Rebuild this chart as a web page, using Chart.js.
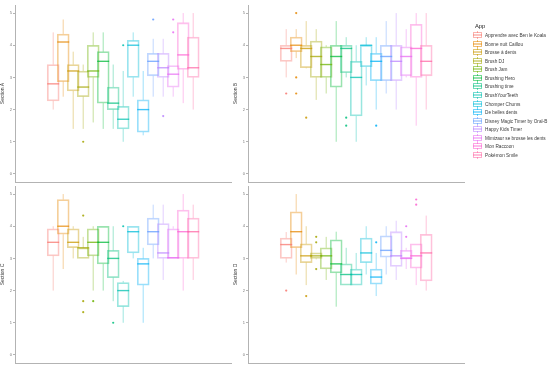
<!DOCTYPE html>
<html>
<head>
<meta charset="utf-8">
<script src="https://cdn.jsdelivr.net/npm/chart.js@4.4.1/dist/chart.umd.min.js"></script>
<style>
  body { margin: 0; background: #fff; font-family: "Liberation Sans", Arial, sans-serif; }
  #wrap { position: relative; width: 550px; height: 371px; overflow: hidden; }
  .panel { position: absolute; }
  #legend { position: absolute; left: 472px; top: 21px; width: 78px; height: 150px; color: #3a3a3a; font-size: 4.7px; white-space: nowrap; }
  #legend .title { position: absolute; left: 3px; top: 0; font-size: 5.8px; line-height: 10px; color: #222; }
  #legend .item { position: absolute; left: 0; height: 8px; display: flex; align-items: center; }
  #legend canvas { width: 9px; height: 8px; margin: 0 3px 0 1px; }
</style>
</head>
<body>
<div id="wrap">
  <div class="panel" style="left:0;top:0;width:236px;height:190px"><canvas id="cA"></canvas></div>
  <div class="panel" style="left:233px;top:0;width:236px;height:190px"><canvas id="cB"></canvas></div>
  <div class="panel" style="left:0;top:181px;width:236px;height:190px"><canvas id="cC"></canvas></div>
  <div class="panel" style="left:233px;top:181px;width:236px;height:190px"><canvas id="cD"></canvas></div>
  <div id="legend"></div>
</div>
<script>
const apps = [
  'Apprendre avec Ben le Koala', 'Bonne nuit Caillou', 'Brosse à dents', 'Brush DJ',
  'Brush Jam', 'Brushing Hero', 'Brushing time', 'BrushYourTeeth', 'Chomper Chums',
  'De belles dents', 'Disney Magic Timer by Oral-B', 'Happy Kids Timer',
  'Mimizaur se brosse les dents', 'Mon Raccoon', 'Pokémon Smile'
];
const colors = [
  '#F8766D', '#E58700', '#C99800', '#A3A500', '#6BB100', '#00BA38', '#00BF7D', '#00C0AF',
  '#00BCD8', '#00B0F6', '#619CFF', '#B983FF', '#E76BF3', '#FD61D1', '#FF67A4'
];
const yTicks = [0, 1, 2, 3, 4, 5];

// [lower whisker, Q1, median, Q3, upper whisker] per app
const sectionA = [
  [2.0, 2.27, 2.8, 3.4, 4.4], [2.4, 2.87, 4.1, 4.35, 4.8], [1.4, 2.58, 3.2, 3.4, 3.8],
  [1.4, 2.4, 2.7, 3.2, 3.4], [1.6, 3.0, 3.2, 4.0, 4.4], [1.4, 2.2, 3.5, 3.8, 4.4],
  [1.4, 2.0, 2.2, 2.7, 3.4], [1.0, 1.4, 1.7, 2.1, 3.2], [2.4, 3.0, 4.0, 4.15, 4.4],
  [1.2, 1.3, 2.0, 2.3, 3.2], [2.4, 3.05, 3.5, 3.75, 4.2], [2.4, 3.0, 3.3, 3.75, 4.2],
  [2.4, 2.7, 3.1, 3.37, 3.37], [2.2, 3.25, 3.7, 4.7, 5.0], [2.0, 3.0, 3.3, 4.25, 5.0]
];
const outliersA = [[], [], [], [1.0], [], [], [], [4.0], [], [], [4.8], [1.8], [4.4, 4.8], [], []];

const sectionB = [
  [3.0, 3.5, 3.9, 4.0, 4.5], [3.6, 3.8, 4.0, 4.25, 4.5], [3.28, 3.3, 3.9, 4.0, 4.75],
  [2.3, 3.0, 3.65, 4.13, 4.5], [2.5, 3.0, 3.4, 3.95, 4.0], [1.0, 2.7, 3.65, 4.0, 4.75],
  [3.0, 3.15, 3.9, 4.0, 4.25], [1.0, 1.8, 3.0, 3.5, 4.0], [2.75, 3.33, 4.0, 4.0, 4.25],
  [2.0, 2.9, 3.5, 3.75, 4.25], [2.5, 2.9, 3.65, 4.0, 4.75], [2.0, 2.9, 3.5, 4.0, 5.0],
  [3.0, 3.05, 3.65, 3.95, 4.5], [1.5, 3.0, 3.9, 4.65, 5.0], [2.0, 3.05, 3.5, 4.0, 5.0]
];
const outliersB = [[2.5], [5.0, 3.0, 2.5], [1.75], [], [], [], [1.75, 1.5], [], [], [1.5], [], [], [], [], []];

const sectionC = [
  [2.0, 3.08, 3.5, 3.92, 4.0], [2.67, 3.75, 4.0, 4.83, 5.0], [3.0, 3.33, 3.5, 3.92, 4.0],
  [3.0, 3.0, 3.33, 3.33, 3.67], [2.0, 3.08, 3.5, 3.92, 4.0], [2.0, 2.83, 3.5, 4.0, 4.0],
  [1.67, 2.4, 3.0, 3.25, 4.0], [1.0, 1.5, 2.0, 2.25, 2.3], [3.0, 3.17, 3.83, 4.0, 4.0],
  [1.0, 2.17, 2.83, 3.0, 3.33], [3.0, 3.42, 3.83, 4.25, 4.67], [2.33, 3.0, 3.17, 4.08, 4.67],
  [3.0, 3.0, 3.02, 3.92, 4.0], [2.0, 3.0, 3.83, 4.5, 5.0], [2.33, 3.0, 3.83, 4.25, 4.67]
];
const outliersC = [[], [], [], [4.33, 1.67, 1.33], [1.67], [], [1.0], [4.0], [], [], [], [], [], [], []];

const sectionD = [
  [2.87, 3.0, 3.43, 3.63, 3.82], [2.5, 3.33, 3.83, 4.45, 5.0], [2.17, 2.87, 3.08, 3.45, 4.0],
  [2.97, 3.0, 3.08, 3.17, 3.17], [2.33, 2.67, 3.08, 3.33, 3.67], [1.5, 2.55, 2.83, 3.58, 3.83],
  [2.17, 2.17, 2.5, 2.83, 3.33], [2.17, 2.17, 2.5, 2.67, 3.17], [2.5, 2.87, 3.17, 3.63, 4.0],
  [1.83, 2.2, 2.42, 2.67, 3.17], [2.5, 3.04, 3.25, 3.7, 4.0], [2.33, 2.75, 3.08, 3.83, 4.17],
  [2.67, 3.0, 3.0, 3.25, 3.33], [2.17, 2.7, 3.08, 3.45, 3.45], [2.0, 2.3, 3.17, 3.75, 4.33]
];
const outliersD = [[2.0], [], [1.83], [3.67, 3.5, 2.67], [], [], [], [], [], [3.5], [], [], [4.0, 3.67], [4.83, 4.67], []];

function alpha(hex, a) {
  const n = parseInt(hex.slice(1), 16);
  return `rgba(${n >> 16},${(n >> 8) & 255},${n & 255},${a})`;
}

// whiskers and medians, placed with the chart's own scales
const boxLines = {
  id: 'boxLines',
  afterDatasetsDraw(chart, args, opts) {
    const { ctx, scales: { x, y } } = chart;
    const half = 6;
    ctx.save();
    opts.stats.forEach((s, i) => {
      const cx = x.getPixelForValue(i + 1);
      ctx.strokeStyle = alpha(colors[i], 0.38);
      ctx.lineWidth = 1;
      ctx.beginPath();
      ctx.moveTo(cx, y.getPixelForValue(s[0]));
      ctx.lineTo(cx, y.getPixelForValue(s[1]));
      ctx.moveTo(cx, y.getPixelForValue(s[3]));
      ctx.lineTo(cx, y.getPixelForValue(s[4]));
      ctx.stroke();
      ctx.strokeStyle = alpha(colors[i], 0.75);
      ctx.lineWidth = 1.4;
      ctx.beginPath();
      ctx.moveTo(cx - half, y.getPixelForValue(s[2]));
      ctx.lineTo(cx + half, y.getPixelForValue(s[2]));
      ctx.stroke();
    });
    ctx.restore();
  }
};

function makePanel(id, title, stats, outliers) {
  const pts = [], ptColors = [];
  outliers.forEach((list, i) => list.forEach(v => {
    pts.push({ x: i + 1, y: v });
    ptColors.push(alpha(colors[i], 0.85));
  }));
  new Chart(document.getElementById(id), {
    type: 'bar',
    data: {
      datasets: [{
        type: 'bar',
        data: stats.map((s, i) => ({ x: i + 1, y: [s[1], s[3]] })),
        backgroundColor: 'rgba(255,255,255,0)',
        borderColor: colors.map(c => alpha(c, 0.4)),
        borderWidth: 1.1,
        borderSkipped: false,
        barThickness: 12
      }, {
        type: 'scatter',
        data: pts,
        pointBackgroundColor: ptColors,
        pointBorderWidth: 0,
        pointRadius: 1.1
      }]
    },
    options: {
      responsive: true,
      maintainAspectRatio: false,
      animation: false,
      layout: { padding: { top: 5, right: 5, left: 0, bottom: 0 } },
      plugins: {
        legend: { display: false },
        tooltip: { enabled: false },
        boxLines: { stats: stats }
      },
      scales: {
        x: {
          type: 'linear', min: -0.12, max: 16.08,
          grid: { display: false },
          border: { display: true, color: '#b3b3b3', width: 1 },
          ticks: { display: false },
          afterFit: s => { s.height = 8; }
        },
        y: {
          min: -0.25, max: 5.25,
          afterBuildTicks: s => { s.ticks = yTicks.map(v => ({ value: v })); },
          grid: { drawOnChartArea: false, drawTicks: true, tickLength: 2, color: '#b3b3b3' },
          border: { display: true, color: '#b3b3b3', width: 1 },
          ticks: { font: { size: 4, family: 'Liberation Sans' }, color: '#777', padding: 1 },
          title: { display: true, text: title, font: { size: 5, family: 'Liberation Sans' }, color: '#333', padding: 0 },
          afterFit: s => { s.width = 15; }
        }
      }
    },
    plugins: [boxLines]
  });
}

makePanel('cA', 'Section A', sectionA, outliersA);
makePanel('cB', 'Section B', sectionB, outliersB);
makePanel('cC', 'Section C', sectionC, outliersC);
makePanel('cD', 'Section D', sectionD, outliersD);

// legend: text rows with a tiny boxplot key drawn on a canvas
const legend = document.getElementById('legend');
legend.innerHTML = '<div class="title">App</div>' + apps.map((a, i) =>
  `<div class="item" style="top:${Math.round(10 + i * 8.57)}px"><canvas width="9" height="8"></canvas>${a}</div>`).join('');
legend.querySelectorAll('canvas').forEach((cv, i) => {
  const g = cv.getContext('2d');
  g.strokeStyle = alpha(colors[i], 0.55);
  g.lineWidth = 1;
  g.beginPath();
  g.moveTo(4.5, 0); g.lineTo(4.5, 2);
  g.moveTo(4.5, 6); g.lineTo(4.5, 8);
  g.stroke();
  g.strokeRect(0.5, 1.5, 8, 5);
  g.strokeStyle = alpha(colors[i], 0.85);
  g.beginPath();
  g.moveTo(0, 4); g.lineTo(9, 4);
  g.stroke();
});
</script>
</body>
</html>
